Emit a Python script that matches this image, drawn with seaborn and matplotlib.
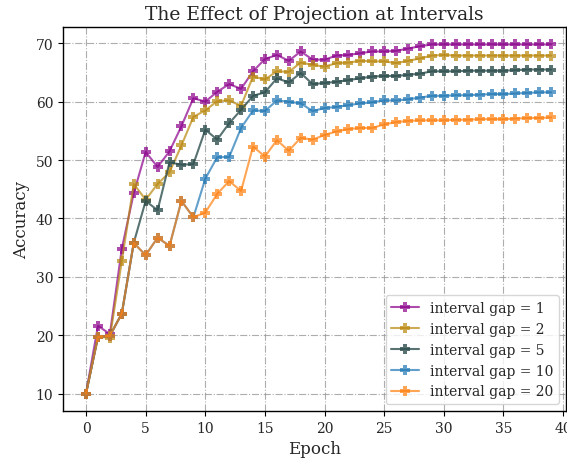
import numpy as np
import pandas as pd
import seaborn as sns
import matplotlib
matplotlib.use("Agg")
import matplotlib.pyplot as plt

epochs = list(range(40))

gap_1 = [10.0, 21.6, 20.2, 34.8, 44.3, 51.4, 48.8, 51.5, 55.8, 60.6,
         60.0, 61.7, 63.0, 62.2, 65.2, 67.3, 68.0, 67.0, 68.6, 67.2,
         67.2, 67.9, 68.0, 68.3, 68.6, 68.6, 68.7, 69.1, 69.5, 69.8,
         69.8, 69.8, 69.8, 69.8, 69.8, 69.8, 69.8, 69.8, 69.8, 69.8]
gap_2 = [10.0, 19.7, 19.6, 32.7, 45.9, 43.2, 45.9, 47.9, 52.5, 57.4,
         58.5, 60.1, 60.2, 59.3, 64.3, 63.8, 65.2, 65.1, 66.7, 66.3,
         66.0, 66.6, 66.7, 67.0, 66.9, 66.9, 66.6, 67.0, 67.4, 67.9,
         68.0, 67.9, 67.9, 67.9, 67.9, 67.9, 67.9, 67.9, 67.9, 67.9]
gap_5 = [10.0, 19.7, 19.9, 23.7, 35.8, 43.0, 41.4, 49.6, 49.2, 49.3,
         55.2, 53.5, 56.3, 58.6, 61.0, 61.6, 64.0, 63.3, 64.9, 63.0,
         63.2, 63.4, 63.7, 64.0, 64.3, 64.4, 64.4, 64.6, 64.8, 65.2,
         65.2, 65.2, 65.3, 65.3, 65.3, 65.3, 65.4, 65.5, 65.5, 65.5]
gap_10 = [10.0, 19.7, 19.9, 23.7, 35.8, 33.7, 36.7, 35.3, 43.0, 40.2,
          46.8, 50.5, 50.5, 55.5, 58.5, 58.4, 60.2, 60.0, 59.7, 58.4,
          58.9, 59.1, 59.4, 59.7, 59.9, 60.2, 60.2, 60.4, 60.7, 61.0,
          61.0, 61.1, 61.1, 61.2, 61.3, 61.3, 61.4, 61.5, 61.6, 61.6]
gap_20 = [10.0, 19.7, 19.9, 23.7, 35.8, 33.7, 36.7, 35.3, 43.0, 40.2,
          41.0, 44.2, 46.4, 44.7, 52.3, 50.6, 53.4, 51.6, 53.8, 53.5,
          54.3, 54.9, 55.3, 55.5, 55.5, 56.1, 56.5, 56.7, 56.8, 56.8,
          56.8, 56.9, 56.9, 57.0, 57.0, 57.0, 57.1, 57.2, 57.2, 57.3]

labels = ["interval gap = 1", "interval gap = 2", "interval gap = 5",
          "interval gap = 10", "interval gap = 20"]
series = [gap_1, gap_2, gap_5, gap_10, gap_20]
colors = ["darkmagenta", "darkgoldenrod", "darkslategray", "#1f77b4", "#ff7f0e"]
alphas = [0.7, 0.7, 0.8, 0.7, 0.7]

sns.set_style("ticks")
plt.rcParams["font.family"] = ["DejaVu Serif"]

fig = plt.figure(figsize=(5.67, 4.60), dpi=100)
ax = fig.add_axes([63 / 567, 48 / 460, 503 / 567, 384 / 460])

for vals, lab, col, a in zip(series, labels, colors, alphas):
    df = pd.DataFrame({"Epoch": epochs, "Accuracy": vals})
    sns.lineplot(data=df, x="Epoch", y="Accuracy", ax=ax, color=col,
                 marker="P", markersize=6.5, markeredgewidth=0,
                 linewidth=1.5, alpha=a, label=lab)

ax.set_xlim(-1.93, 40.24)
ax.set_xticks(range(0, 41, 5))
ax.set_yticks(range(10, 71, 10))
ax.grid(True, linestyle="-.", color="#999999", alpha=0.8, linewidth=0.8)
ax.tick_params(labelsize=10, direction="out", length=3.5, color="black")
for sp in ax.spines.values():
    sp.set_color("black")
    sp.set_linewidth(1.0)

ax.set_title("The Effect of Projection at Intervals", fontsize=13.5)
ax.set_xlabel("Epoch", fontsize=12)
ax.set_ylabel("Accuracy", fontsize=12)
ax.legend(loc="lower right", fontsize=10)

fig.savefig("out.png", dpi=100)
